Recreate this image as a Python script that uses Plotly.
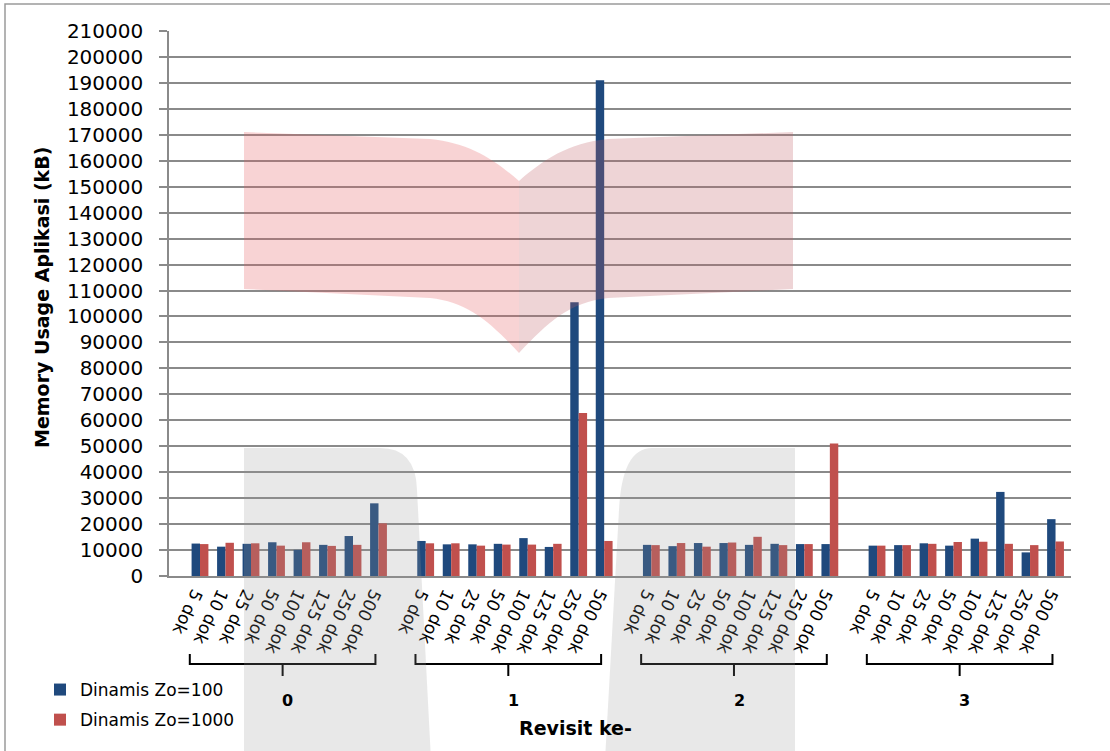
import plotly.graph_objects as go

# ---- data -------------------------------------------------------------
revisions = ["0", "1", "2", "3"]
doc_labels = ["5 dok", "10 dok", "25 dok", "50 dok", "100 dok", "125 dok", "250 dok", "500 dok"]

zo_100 = [12500, 11300, 12400, 13000, 10100, 12000, 15400, 28000,
          13500, 12200, 12200, 12400, 14600, 11200, 105500, 191000,
          12000, 11500, 12700, 12700, 12000, 12400, 12300, 12300,
          11700, 11900, 12600, 11700, 14400, 32400, 9100, 21900]
zo_1000 = [12300, 12800, 12600, 11700, 13000, 11600, 12000, 20300,
           12600, 12600, 11700, 12100, 12100, 12400, 62800, 13500,
           11900, 12700, 11300, 12900, 15100, 11900, 12300, 51100,
           11700, 11900, 12400, 13100, 13200, 12400, 11900, 13300]

series_names = ["Dinamis Zo=100", "Dinamis Zo=1000"]
series_colors = ["#1F497D", "#C0504D"]

# ---- category positions (blank gap between revision groups) -----------
GROUP_GAP = 1.85
n_docs = len(doc_labels)
positions, tick_text = [], []
for g, _ in enumerate(revisions):
    for i, lab in enumerate(doc_labels):
        positions.append(g * (n_docs - 1 + GROUP_GAP) + i)
        tick_text.append(lab)

# ---- page geometry -----------------------------------------------------
W, H = 1110, 751
L, R, T, B = 169, 1071, 31, 576
UNIT = 25.5
x_lo = (L - 200) / UNIT
x_hi = x_lo + (R - L) / UNIT


def px(x):
    return (x - L) / (R - L)


def py(y):
    return (B - y) / (B - T)


def paper_path(cmds):
    out = []
    for c in cmds:
        op, pts = c[0], c[1:]
        out.append(op + " ".join(f"{px(a):.5f},{py(b):.5f}" for a, b in pts))
    return " ".join(out)


FONT = "DejaVu Sans"

fig = go.Figure()
for name, vals, col in zip(series_names, [zo_100, zo_1000], series_colors):
    fig.add_trace(go.Bar(
        x=positions, y=vals, name=name, marker=dict(color=col, line=dict(width=0)),
        legendgroup=name,
    ))

shapes = []
annotations = []

# group brackets and revision labels under the category labels
for g, rev in enumerate(revisions):
    first = positions[g * n_docs]
    last = positions[g * n_docs + n_docs - 1]
    x0, x1 = first - 0.4, last - 0.12
    mid = (x0 + x1) / 2
    shapes.append(dict(
        type="path", xref="x", yref="paper",
        path=(f"M{x0},{py(654)} L{x0},{py(664)} L{x1},{py(664)} L{x1},{py(654)} "
              f"M{mid},{py(664)} L{mid},{py(676)}"),
        line=dict(color="black", width=2),
    ))
    annotations.append(dict(
        x=mid + 0.2, y=py(700), xref="x", yref="paper", text=f"<b>{rev}</b>",
        showarrow=False, font=dict(family=FONT, size=16, color="black"),
        xanchor="center", yanchor="middle",
    ))

# background logo watermark: open book and a grey "U"
left_page = paper_path([
    ("M", (244, 132)), ("L", (430, 139)),
    ("C", (470, 143), (495, 160), (519, 181)),
    ("L", (519, 353)),
    ("C", (490, 322), (468, 302), (430, 298)),
    ("L", (244, 289)), ("Z",),
])
right_page = paper_path([
    ("M", (519, 181)),
    ("C", (543, 160), (568, 143), (608, 139)),
    ("L", (793, 132)), ("L", (793, 289)), ("L", (608, 298)),
    ("C", (570, 302), (548, 322), (519, 353)), ("Z",),
])
u_left = paper_path([
    ("M", (244, 448)), ("L", (380, 448)),
    ("Q", (416, 448), (417, 490)),
    ("L", (431, 760)), ("L", (244, 760)), ("Z",),
])
u_right = paper_path([
    ("M", (652, 448)), ("L", (795, 448)), ("L", (795, 760)), ("L", (605, 760)),
    ("L", (619, 510)),
    ("Q", (622, 448), (652, 448)), ("Z",),
])
for p, col in [(u_left, "rgba(150,150,150,0.22)"), (u_right, "rgba(150,150,150,0.22)"),
               (left_page, "rgba(229,92,96,0.27)"), (right_page, "rgba(192,96,103,0.27)")]:
    shapes.append(dict(type="path", xref="paper", yref="paper", path=p,
                       fillcolor=col, line=dict(width=0), layer="above"))

# outer frame
shapes.append(dict(type="rect", xref="paper", yref="paper",
                   x0=px(5), y0=py(4), x1=px(1130), y1=py(770),
                   line=dict(color="#9A9A9A", width=1.5), fillcolor="rgba(0,0,0,0)",
                   layer="below"))

# axis titles
annotations.append(dict(
    x=px(42), y=py(297), xref="paper", yref="paper",
    text="<b>Memory Usage Aplikasi (kB)</b>", textangle=-90, showarrow=False,
    font=dict(family=FONT, size=19, color="black"), xanchor="center", yanchor="middle",
))
annotations.append(dict(
    x=px(575), y=py(728), xref="paper", yref="paper",
    text="<b>Revisit ke-</b>", showarrow=False,
    font=dict(family=FONT, size=19, color="black"), xanchor="center", yanchor="middle",
))

fig.update_layout(
    width=W, height=H,
    margin=dict(l=L, r=W - R, t=T, b=H - B),
    paper_bgcolor="white", plot_bgcolor="white",
    barmode="group", bargap=0.34, bargroupgap=0.0,
    font=dict(family=FONT, color="black"),
    showlegend=True,
    legend=dict(
        x=px(40), y=py(672), xref="paper", yref="paper", xanchor="left", yanchor="top",
        font=dict(family=FONT, size=17, color="black"),
        bgcolor="rgba(0,0,0,0)", tracegroupgap=5, traceorder="grouped",
    ),
    shapes=shapes,
    annotations=annotations,
    xaxis=dict(
        range=[x_lo, x_hi], tickmode="array", tickvals=positions, ticktext=tick_text,
        tickangle=115, ticks="", showgrid=False, zeroline=False,
        showline=True, linecolor="#8A8A8A", linewidth=1.5,
        ticklabelstandoff=2,
        tickfont=dict(family=FONT, size=17, color="black"),
    ),
    yaxis=dict(
        range=[0, 210000], dtick=10000, tick0=0, tickformat="d",
        showgrid=True, gridcolor="#8A8A8A", gridwidth=1.5, zeroline=False,
        showline=True, linecolor="#8A8A8A", linewidth=1.5,
        ticks="outside", ticklen=8, tickcolor="#8A8A8A", tickwidth=1.5,
        ticklabelstandoff=12,
        tickfont=dict(family=FONT, size=20, color="black"),
    ),
)

fig.write_html("out.html")
